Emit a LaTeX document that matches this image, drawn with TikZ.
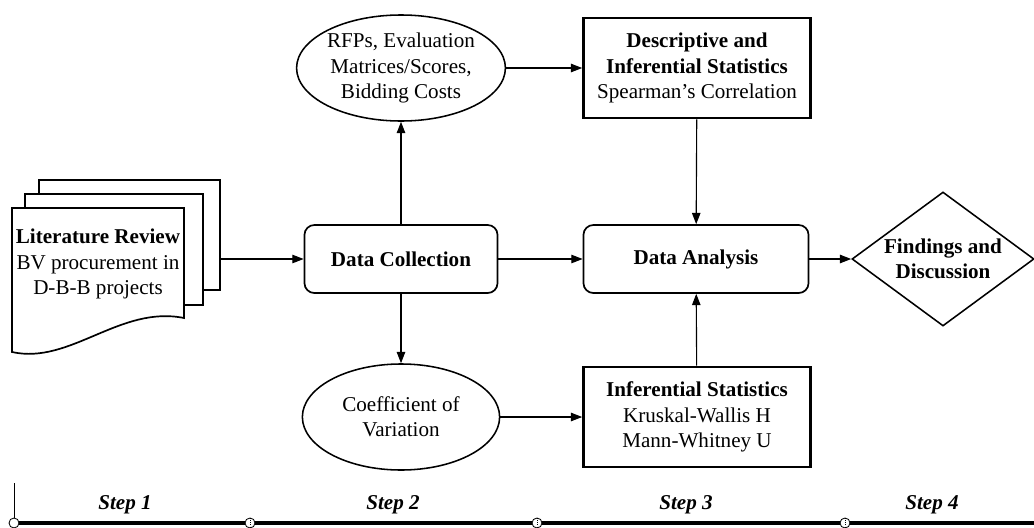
\documentclass[tikz,border=0pt]{standalone}
\usepackage{fontspec}
\setmainfont{Liberation Serif}
\usetikzlibrary{shapes.geometric,arrows.meta}

\begin{document}
\begin{tikzpicture}[x=0.025cm, y=-0.025cm,
    font=\fontsize{15}{18}\selectfont,
    flow/.style={-{Triangle[length=8pt,width=6pt]}, line width=0.8pt},
    roundbox/.style={draw, rounded corners=7pt, line width=1.2pt, minimum width=4.825cm, minimum height=1.7cm, align=center},
    statbox/.style={draw, line width=1.8pt, minimum width=5.675cm, minimum height=2.5cm, align=center},
    oval/.style={draw, ellipse, line width=1.1pt, minimum width=5.1cm, minimum height=2.65cm, align=center, inner sep=0pt},
    page/.style={draw, fill=white, line width=1.2pt},
    stepdot/.style={circle, draw, fill=white, line width=0.6pt, minimum size=0.25cm, inner sep=0pt},
    steplabel/.style={font=\fontsize{15}{18}\selectfont\bfseries\itshape}]
            \useasboundingbox (0,0) rectangle (1034,527);

            % literature review, stacked pages
            \draw[page] (39,180) rectangle (220,290);
            \draw[page] (25,194) rectangle (203,305);
            \draw[page] (12,208) -- (184,208) -- (184,318) .. controls (120,305) and (70,365) .. (12,352) -- cycle;
            \node[align=center] (lit) at (98,264) {\textbf{Literature Review}\\BV procurement in\\D-B-B projects};
            \coordinate (litout) at (220,259);

            \node[roundbox] (collect) at (401,259) {\textbf{Data Collection}};
            \node[roundbox, minimum width=5.625cm] (analysis) at (696,259) {\textbf{Data Analysis}};
            \node[oval] (sources) at (401,68) {RFPs, Evaluation\\Matrices/Scores,\\Bidding Costs};
            \node[oval, minimum width=4.93cm] (variation) at (401,417) {Coefficient of\\Variation};
            \node[statbox] (descr) at (697,68) {\textbf{Descriptive and}\\\textbf{Inferential Statistics}\\Spearman's Correlation};
            \node[statbox] (infer) at (697,417) {\textbf{Inferential Statistics}\\Kruskal-Wallis H\\Mann-Whitney U};
            \node[diamond, draw, line width=1.1pt, aspect=1.36, inner sep=0pt, minimum width=4.55cm, minimum height=3.35cm, align=center] (findings) at (943,259) {\textbf{Findings and}\\\textbf{Discussion}};

            \draw[flow] (litout) -- (collect);
            \draw[flow] (collect) -- (sources);
            \draw[flow] (collect) -- (variation);
            \draw[flow] (sources) -- (descr);
            \draw[flow] (variation) -- (infer);
            \draw[flow] (collect) -- (analysis);
            \draw[flow] (descr) -- (analysis);
            \draw[flow] (infer) -- (analysis);
            \draw[flow] (analysis) -- (findings);

            % steps along the bottom
            \node[stepdot] (s0) at (14,523) {};
            \node[stepdot] (s1) at (250,523) {};
            \node[stepdot] (s2) at (537,523) {};
            \node[stepdot] (s3) at (845,523) {};
            \coordinate (send) at (1034,523);
            \coordinate (axistop) at (14,483);
            \draw[line width=2.2pt] (s0) -- (s1) -- (s2) -- (s3) -- (send);
            \draw[line width=0.6pt] (s0) -- (axistop);
            \draw[densely dotted, line width=0.6pt] (s1.north) -- ++(0,20);
            \draw[densely dotted, line width=0.6pt] (s2.north) -- ++(0,20);
            \draw[densely dotted, line width=0.6pt] (s3.north) -- ++(0,20);

            \node[steplabel] (step1) at (125,505) {Step 1};
            \node[steplabel] (step2) at (393,505) {Step 2};
            \node[steplabel] (step3) at (686,505) {Step 3};
            \node[steplabel] (step4) at (932,505) {Step 4};
        \end{tikzpicture}
\end{document}
